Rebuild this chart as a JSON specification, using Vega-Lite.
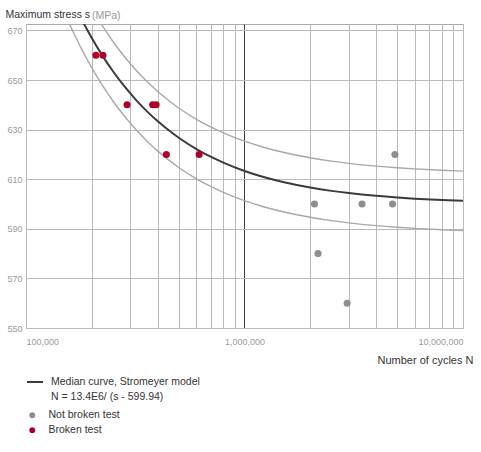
{
  "$schema": "https://vega.github.io/schema/vega-lite/v6.json",
  "autosize": "none",
  "padding": {"left": 26, "top": 24, "right": 18, "bottom": 124},
  "width": 437,
  "height": 304,
  "config": {
    "font": "Liberation Sans, sans-serif",
    "view": {"stroke": "#aaaaaa", "strokeWidth": 1},
    "axis": {"labelFont": "Liberation Sans, sans-serif", "titleFont": "Liberation Sans, sans-serif"},
    "legend": {"labelFont": "Liberation Sans, sans-serif", "labelFontSize": 10.5, "labelColor": "#333333", "labelLimit": 300},
    "title": {"font": "Liberation Sans, sans-serif"}
  },
  "title": {
    "text": "(MPa)",
    "anchor": "start",
    "frame": "group",
    "dx": 66,
    "offset": -20,
    "baseline": "alphabetic",
    "fontSize": 10.5,
    "fontWeight": "normal",
    "color": "#9a9a9a"
  },
  "datasets": {
    "curves": [
      {"N": 140000, "med": 695.65, "up": 707.65, "lo": 683.65},
      {"N": 150000, "med": 689.27, "up": 701.27, "lo": 677.27},
      {"N": 160000, "med": 683.69, "up": 695.69, "lo": 671.69},
      {"N": 170000, "med": 678.76, "up": 690.76, "lo": 666.76},
      {"N": 180000, "med": 674.38, "up": 686.38, "lo": 662.38},
      {"N": 190000, "med": 670.47, "up": 682.47, "lo": 658.47},
      {"N": 200000, "med": 666.94, "up": 678.94, "lo": 654.94},
      {"N": 220000, "med": 660.85, "up": 672.85, "lo": 648.85},
      {"N": 250000, "med": 653.54, "up": 665.54, "lo": 641.54},
      {"N": 280000, "med": 647.80, "up": 659.80, "lo": 635.80},
      {"N": 320000, "med": 641.82, "up": 653.82, "lo": 629.82},
      {"N": 360000, "med": 637.16, "up": 649.16, "lo": 625.16},
      {"N": 400000, "med": 633.44, "up": 645.44, "lo": 621.44},
      {"N": 450000, "med": 629.72, "up": 641.72, "lo": 617.72},
      {"N": 500000, "med": 626.74, "up": 638.74, "lo": 614.74},
      {"N": 600000, "med": 622.27, "up": 634.27, "lo": 610.27},
      {"N": 700000, "med": 619.08, "up": 631.08, "lo": 607.08},
      {"N": 800000, "med": 616.69, "up": 628.69, "lo": 604.69},
      {"N": 1000000, "med": 613.34, "up": 625.34, "lo": 601.34},
      {"N": 1200000, "med": 611.11, "up": 623.11, "lo": 599.11},
      {"N": 1500000, "med": 608.87, "up": 620.87, "lo": 596.87},
      {"N": 2000000, "med": 606.64, "up": 618.64, "lo": 594.64},
      {"N": 2500000, "med": 605.30, "up": 617.30, "lo": 593.30},
      {"N": 3000000, "med": 604.41, "up": 616.41, "lo": 592.41},
      {"N": 4000000, "med": 603.29, "up": 615.29, "lo": 591.29},
      {"N": 5000000, "med": 602.62, "up": 614.62, "lo": 590.62},
      {"N": 6000000, "med": 602.17, "up": 614.17, "lo": 590.17},
      {"N": 8000000, "med": 601.62, "up": 613.62, "lo": 589.62},
      {"N": 10000000, "med": 601.28, "up": 613.28, "lo": 589.28}
    ],
    "tests": [
      {"N": 209000, "s": 660, "series": "Broken test"},
      {"N": 225000, "s": 660, "series": "Broken test"},
      {"N": 290000, "s": 640, "series": "Broken test"},
      {"N": 380000, "s": 640, "series": "Broken test"},
      {"N": 394000, "s": 640, "series": "Broken test"},
      {"N": 439000, "s": 620, "series": "Broken test"},
      {"N": 620000, "s": 620, "series": "Broken test"},
      {"N": 4880000, "s": 620, "series": "Not broken test"},
      {"N": 2090000, "s": 600, "series": "Not broken test"},
      {"N": 3450000, "s": 600, "series": "Not broken test"},
      {"N": 4760000, "s": 600, "series": "Not broken test"},
      {"N": 2170000, "s": 580, "series": "Not broken test"},
      {"N": 2950000, "s": 560, "series": "Not broken test"}
    ]
  },
  "encoding": {
    "x": {
      "field": "N",
      "type": "quantitative",
      "scale": {"type": "log", "domain": [100000, 10000000], "nice": false},
      "axis": {
        "values": [100000, 200000, 300000, 400000, 500000, 600000, 700000, 800000, 900000, 1000000, 2000000, 3000000, 4000000, 5000000, 6000000, 7000000, 8000000, 9000000, 10000000],
        "labelExpr": "(datum.value == 100000 || datum.value == 1000000 || datum.value == 10000000) ? format(datum.value, ',') : ''",
        "labelFlush": true,
        "labelOverlap": false,
        "labelPadding": 9,
        "labelFontSize": 9,
        "labelColor": "#9a9a9a",
        "tickSize": 0,
        "domain": false,
        "grid": true,
        "gridColor": {"condition": {"test": "datum.value == 1000000", "value": "#3a3a3a"}, "value": "#bababa"},
        "gridWidth": 1,
        "gridOpacity": 1,
        "title": "Number of cycles N",
        "titleX": 447,
        "titleY": 35,
        "titleAlign": "right",
        "titleAnchor": "end",
        "titleBaseline": "alphabetic",
        "titleFontSize": 11,
        "titleFontWeight": "normal",
        "titleColor": "#333333"
      }
    }
  },
  "layer": [
    {
      "data": {"name": "curves"},
      "mark": {"type": "line", "clip": true, "interpolate": "monotone", "color": "#a8a8a8", "strokeWidth": 1.4},
      "encoding": {
        "y": {
          "field": "up",
          "type": "quantitative",
          "scale": {"domain": [550, 672.6], "nice": false, "zero": false},
          "axis": {
            "values": [550, 570, 590, 610, 630, 650, 670],
            "labelPadding": 4,
            "labelFontSize": 9,
            "labelColor": "#9a9a9a",
            "tickSize": 0,
            "domain": false,
            "grid": true,
            "gridColor": "#bababa",
            "gridOpacity": 1,
            "title": "Maximum stress s",
            "titleAngle": 0,
            "titleX": -21,
            "titleY": -7,
            "titleAlign": "left",
            "titleBaseline": "alphabetic",
            "titleFontSize": 10.5,
            "titleFontWeight": "normal",
            "titleColor": "#333333"
          }
        }
      }
    },
    {
      "data": {"name": "curves"},
      "mark": {"type": "line", "clip": true, "interpolate": "monotone", "color": "#a8a8a8", "strokeWidth": 1.4},
      "encoding": {"y": {"field": "lo", "type": "quantitative"}}
    },
    {
      "data": {"name": "curves"},
      "mark": {"type": "line", "clip": true, "interpolate": "monotone", "strokeWidth": 2},
      "encoding": {
        "y": {"field": "med", "type": "quantitative"},
        "stroke": {
          "datum": "Median curve, Stromeyer model",
          "type": "nominal",
          "scale": {
            "domain": ["Median curve, Stromeyer model", "N = 13.4E6/ (s - 599.94)"],
            "range": ["#3b3b3b", "transparent"]
          },
          "legend": {
            "orient": "none",
            "legendX": 0,
            "legendY": 349,
            "title": null,
            "symbolType": "stroke",
            "symbolSize": 256,
            "symbolStrokeWidth": 2,
            "labelOffset": 7,
            "rowPadding": 0
          }
        }
      }
    },
    {
      "data": {"name": "tests"},
      "mark": {"type": "circle", "size": 50, "opacity": 1, "clip": true},
      "encoding": {
        "y": {"field": "s", "type": "quantitative"},
        "color": {
          "field": "series",
          "type": "nominal",
          "scale": {
            "domain": ["Not broken test", "Broken test"],
            "range": ["#8a8f8f", "#b0002a"]
          },
          "legend": {
            "orient": "none",
            "legendX": 1,
            "legendY": 386,
            "title": null,
            "symbolSize": 34,
            "labelOffset": 11,
            "rowPadding": 4
          }
        }
      }
    }
  ]
}
